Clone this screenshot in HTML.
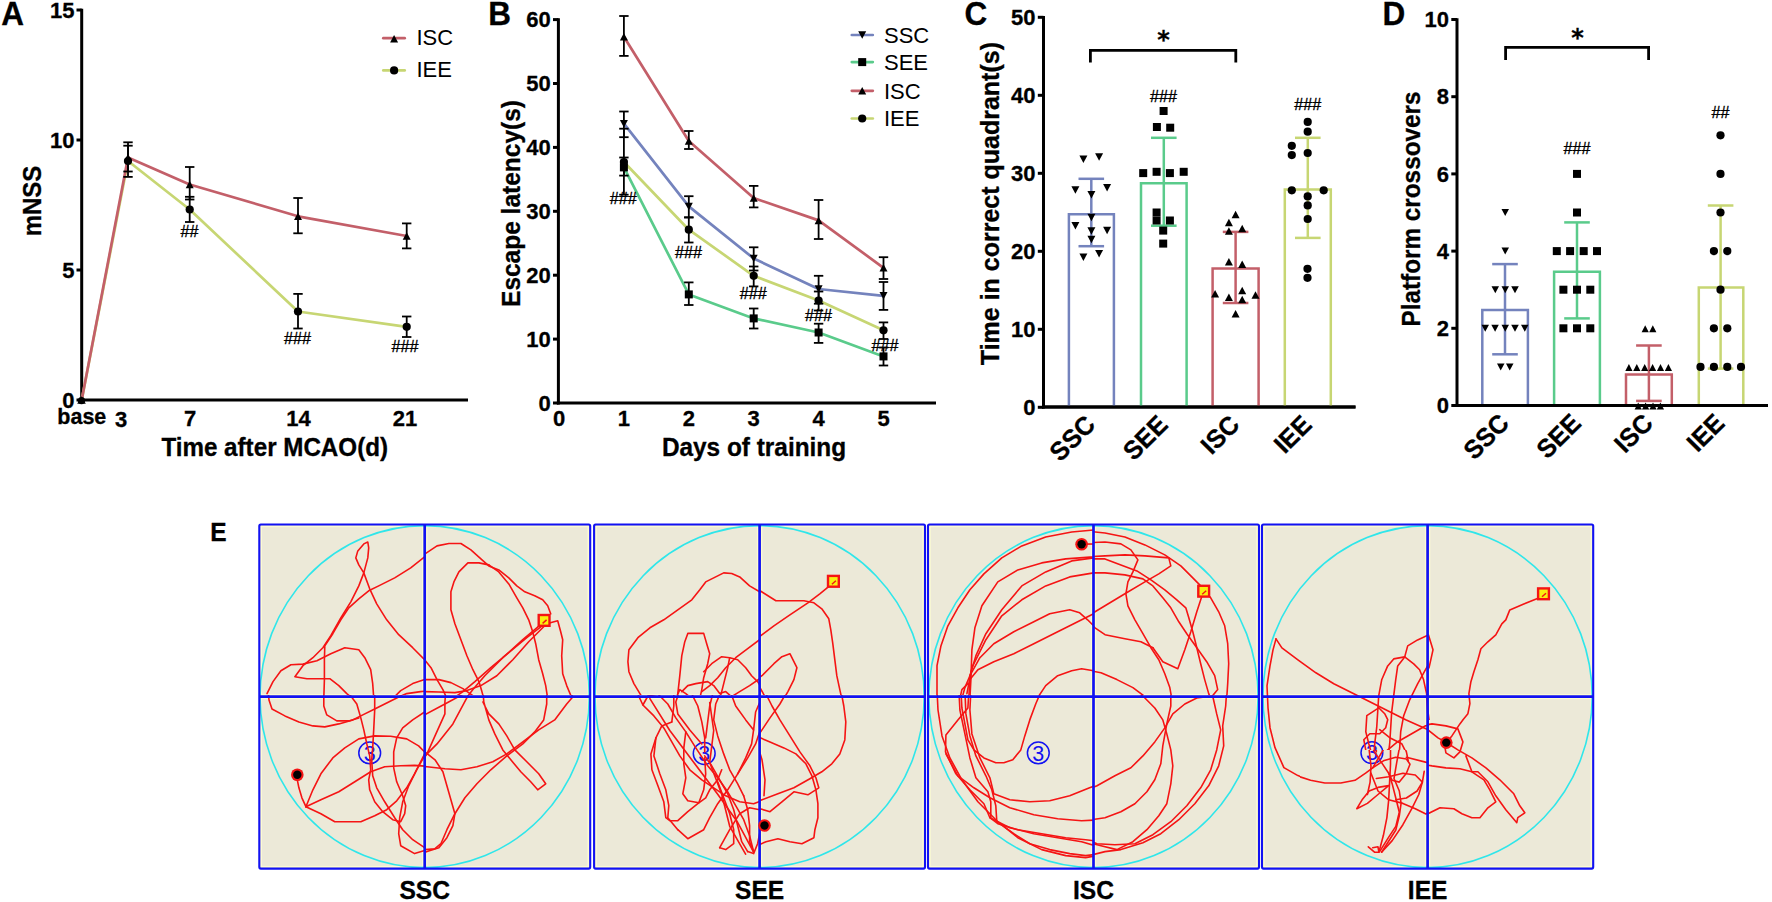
<!DOCTYPE html>
<html lang="en"><head><meta charset="utf-8"><title>Figure</title>
<style>
html,body{margin:0;padding:0;background:#fff;}
body{width:1772px;height:902px;overflow:hidden;}
svg{display:block;}
svg text{font-family:"Liberation Sans",Arial,sans-serif;fill:#000;}
svg text.star{font-family:"DejaVu Sans","Liberation Sans",sans-serif;font-weight:bold;}
</style></head><body>
<svg width="1772" height="902" viewBox="0 0 1772 902">
<rect width="1772" height="902" fill="#fff"/>
<text transform="translate(1.3 24.8) scale(1 1.04)" font-size="31.5" font-weight="bold" text-anchor="start"  stroke="#000" stroke-width="0.3">A</text>
<text transform="translate(488.2 24.8) scale(1 1.04)" font-size="31.5" font-weight="bold" text-anchor="start"  stroke="#000" stroke-width="0.3">B</text>
<text transform="translate(964.5 24.8) scale(1 1.04)" font-size="31.5" font-weight="bold" text-anchor="start"  stroke="#000" stroke-width="0.3">C</text>
<text transform="translate(1382.4 24.8) scale(1 1.04)" font-size="31.5" font-weight="bold" text-anchor="start"  stroke="#000" stroke-width="0.3">D</text>
<text transform="translate(210.2 541.0) scale(1 1.04)" font-size="24.5" font-weight="bold" text-anchor="start"  stroke="#000" stroke-width="0.3">E</text>
<line x1="81.7" y1="8.7" x2="81.7" y2="401.5" stroke="#000" stroke-width="3" stroke-linecap="butt"/>
<line x1="80.2" y1="400.0" x2="468.0" y2="400.0" stroke="#000" stroke-width="3" stroke-linecap="butt"/>
<line x1="76.5" y1="400.0" x2="81.7" y2="400.0" stroke="#000" stroke-width="3" stroke-linecap="butt"/>
<text transform="translate(74.5 407.6) scale(1 1.04)" font-size="22" font-weight="bold" text-anchor="end"  stroke="#000" stroke-width="0.3">0</text>
<line x1="76.5" y1="270.0" x2="81.7" y2="270.0" stroke="#000" stroke-width="3" stroke-linecap="butt"/>
<text transform="translate(74.5 277.6) scale(1 1.04)" font-size="22" font-weight="bold" text-anchor="end"  stroke="#000" stroke-width="0.3">5</text>
<line x1="76.5" y1="140.0" x2="81.7" y2="140.0" stroke="#000" stroke-width="3" stroke-linecap="butt"/>
<text transform="translate(74.5 147.6) scale(1 1.04)" font-size="22" font-weight="bold" text-anchor="end"  stroke="#000" stroke-width="0.3">10</text>
<line x1="76.5" y1="10.0" x2="81.7" y2="10.0" stroke="#000" stroke-width="3" stroke-linecap="butt"/>
<text transform="translate(74.5 17.6) scale(1 1.04)" font-size="22" font-weight="bold" text-anchor="end"  stroke="#000" stroke-width="0.3">15</text>
<text transform="translate(81.8 424.3) scale(1 1.04)" font-size="21.5" font-weight="bold" text-anchor="middle"  stroke="#000" stroke-width="0.3">base</text>
<text transform="translate(121.0 427.3) scale(1 1.04)" font-size="22" font-weight="bold" text-anchor="middle"  stroke="#000" stroke-width="0.3">3</text>
<text transform="translate(190.0 425.5) scale(1 1.04)" font-size="22" font-weight="bold" text-anchor="middle"  stroke="#000" stroke-width="0.3">7</text>
<text transform="translate(298.5 425.5) scale(1 1.04)" font-size="22" font-weight="bold" text-anchor="middle"  stroke="#000" stroke-width="0.3">14</text>
<text transform="translate(405.0 425.5) scale(1 1.04)" font-size="22" font-weight="bold" text-anchor="middle"  stroke="#000" stroke-width="0.3">21</text>
<text transform="translate(274.7 455.5) scale(1 1.04)" font-size="24.2" font-weight="bold" text-anchor="middle"  stroke="#000" stroke-width="0.3">Time after MCAO(d)</text>
<text transform="translate(41.0 201.0) rotate(-90) scale(1 1.04)" font-size="24" font-weight="bold" text-anchor="middle"  stroke="#000" stroke-width="0.3">mNSS</text>
<polyline points="81.7,400.0 128.0,161.0 189.7,209.5 298.0,311.5 406.7,326.8" fill="none" stroke="#c7d673" stroke-width="2.7" stroke-linejoin="round" stroke-linecap="round"/>
<polyline points="81.7,400.0 128.0,157.5 189.7,184.5 298.0,216.3 406.7,236.0" fill="none" stroke="#c35f69" stroke-width="2.7" stroke-linejoin="round" stroke-linecap="round"/>
<line x1="128.0" y1="142.3" x2="128.0" y2="171.5" stroke="#000" stroke-width="1.8" stroke-linecap="butt"/>
<line x1="123.3" y1="142.3" x2="132.7" y2="142.3" stroke="#000" stroke-width="1.8" stroke-linecap="butt"/>
<line x1="123.3" y1="171.5" x2="132.7" y2="171.5" stroke="#000" stroke-width="1.8" stroke-linecap="butt"/>
<line x1="128.0" y1="145.7" x2="128.0" y2="176.9" stroke="#000" stroke-width="1.8" stroke-linecap="butt"/>
<line x1="123.3" y1="145.7" x2="132.7" y2="145.7" stroke="#000" stroke-width="1.8" stroke-linecap="butt"/>
<line x1="123.3" y1="176.9" x2="132.7" y2="176.9" stroke="#000" stroke-width="1.8" stroke-linecap="butt"/>
<line x1="189.7" y1="167.0" x2="189.7" y2="199.5" stroke="#000" stroke-width="1.8" stroke-linecap="butt"/>
<line x1="185.0" y1="167.0" x2="194.4" y2="167.0" stroke="#000" stroke-width="1.8" stroke-linecap="butt"/>
<line x1="185.0" y1="199.5" x2="194.4" y2="199.5" stroke="#000" stroke-width="1.8" stroke-linecap="butt"/>
<line x1="189.7" y1="196.8" x2="189.7" y2="222.0" stroke="#000" stroke-width="1.8" stroke-linecap="butt"/>
<line x1="185.0" y1="196.8" x2="194.4" y2="196.8" stroke="#000" stroke-width="1.8" stroke-linecap="butt"/>
<line x1="185.0" y1="222.0" x2="194.4" y2="222.0" stroke="#000" stroke-width="1.8" stroke-linecap="butt"/>
<line x1="298.0" y1="198.0" x2="298.0" y2="233.3" stroke="#000" stroke-width="1.8" stroke-linecap="butt"/>
<line x1="293.3" y1="198.0" x2="302.7" y2="198.0" stroke="#000" stroke-width="1.8" stroke-linecap="butt"/>
<line x1="293.3" y1="233.3" x2="302.7" y2="233.3" stroke="#000" stroke-width="1.8" stroke-linecap="butt"/>
<line x1="298.0" y1="293.9" x2="298.0" y2="328.5" stroke="#000" stroke-width="1.8" stroke-linecap="butt"/>
<line x1="293.3" y1="293.9" x2="302.7" y2="293.9" stroke="#000" stroke-width="1.8" stroke-linecap="butt"/>
<line x1="293.3" y1="328.5" x2="302.7" y2="328.5" stroke="#000" stroke-width="1.8" stroke-linecap="butt"/>
<line x1="406.7" y1="223.4" x2="406.7" y2="248.4" stroke="#000" stroke-width="1.8" stroke-linecap="butt"/>
<line x1="402.0" y1="223.4" x2="411.4" y2="223.4" stroke="#000" stroke-width="1.8" stroke-linecap="butt"/>
<line x1="402.0" y1="248.4" x2="411.4" y2="248.4" stroke="#000" stroke-width="1.8" stroke-linecap="butt"/>
<line x1="406.7" y1="316.5" x2="406.7" y2="337.0" stroke="#000" stroke-width="1.8" stroke-linecap="butt"/>
<line x1="402.0" y1="316.5" x2="411.4" y2="316.5" stroke="#000" stroke-width="1.8" stroke-linecap="butt"/>
<line x1="402.0" y1="337.0" x2="411.4" y2="337.0" stroke="#000" stroke-width="1.8" stroke-linecap="butt"/>
<circle cx="81.5" cy="400.6" r="3.6" fill="#000"/>
<polygon points="77.2,403.8 85.8,403.8 81.5,396.2" fill="#000"/>
<circle cx="128.0" cy="161.0" r="4.1" fill="#000"/>
<circle cx="189.7" cy="209.5" r="4.1" fill="#000"/>
<circle cx="298.0" cy="311.5" r="4.1" fill="#000"/>
<circle cx="406.7" cy="326.8" r="4.1" fill="#000"/>
<polygon points="124.0,161.2 132.0,161.2 128.0,153.8" fill="#000"/>
<polygon points="185.7,188.2 193.7,188.2 189.7,180.8" fill="#000"/>
<polygon points="294.0,220.1 302.0,220.1 298.0,212.6" fill="#000"/>
<polygon points="402.7,239.8 410.7,239.8 406.7,232.2" fill="#000"/>
<text transform="translate(189.5 237.2) scale(1 1.04)" font-size="16.2" font-weight="normal" text-anchor="middle" stroke="#000" stroke-width="0.35">##</text>
<text transform="translate(297.6 344.0) scale(1 1.04)" font-size="16.2" font-weight="normal" text-anchor="middle" stroke="#000" stroke-width="0.35">###</text>
<text transform="translate(405.0 351.5) scale(1 1.04)" font-size="16.2" font-weight="normal" text-anchor="middle" stroke="#000" stroke-width="0.35">###</text>
<line x1="383.3" y1="38.2" x2="404.7" y2="38.2" stroke="#c35f69" stroke-width="2.7" stroke-linecap="round"/>
<polygon points="390.1,42.4 398.1,42.4 394.1,34.9" fill="#000"/>
<line x1="383.3" y1="70.4" x2="404.7" y2="70.4" stroke="#c7d673" stroke-width="2.7" stroke-linecap="round"/>
<circle cx="394.1" cy="70.4" r="4.1" fill="#000"/>
<text transform="translate(416.4 45.2) scale(1 1.04)" font-size="22" font-weight="normal" text-anchor="start" >ISC</text>
<text transform="translate(416.4 77.3) scale(1 1.04)" font-size="22" font-weight="normal" text-anchor="start" >IEE</text>
<line x1="558.4" y1="18.2" x2="558.4" y2="404.5" stroke="#000" stroke-width="3" stroke-linecap="butt"/>
<line x1="556.9" y1="403.0" x2="936.0" y2="403.0" stroke="#000" stroke-width="3" stroke-linecap="butt"/>
<line x1="553.0" y1="403.0" x2="558.4" y2="403.0" stroke="#000" stroke-width="3" stroke-linecap="butt"/>
<text transform="translate(550.8 410.6) scale(1 1.04)" font-size="22" font-weight="bold" text-anchor="end"  stroke="#000" stroke-width="0.3">0</text>
<line x1="553.0" y1="339.1" x2="558.4" y2="339.1" stroke="#000" stroke-width="3" stroke-linecap="butt"/>
<text transform="translate(550.8 346.7) scale(1 1.04)" font-size="22" font-weight="bold" text-anchor="end"  stroke="#000" stroke-width="0.3">10</text>
<line x1="553.0" y1="275.2" x2="558.4" y2="275.2" stroke="#000" stroke-width="3" stroke-linecap="butt"/>
<text transform="translate(550.8 282.8) scale(1 1.04)" font-size="22" font-weight="bold" text-anchor="end"  stroke="#000" stroke-width="0.3">20</text>
<line x1="553.0" y1="211.3" x2="558.4" y2="211.3" stroke="#000" stroke-width="3" stroke-linecap="butt"/>
<text transform="translate(550.8 218.9) scale(1 1.04)" font-size="22" font-weight="bold" text-anchor="end"  stroke="#000" stroke-width="0.3">30</text>
<line x1="553.0" y1="147.4" x2="558.4" y2="147.4" stroke="#000" stroke-width="3" stroke-linecap="butt"/>
<text transform="translate(550.8 155.0) scale(1 1.04)" font-size="22" font-weight="bold" text-anchor="end"  stroke="#000" stroke-width="0.3">40</text>
<line x1="553.0" y1="83.5" x2="558.4" y2="83.5" stroke="#000" stroke-width="3" stroke-linecap="butt"/>
<text transform="translate(550.8 91.1) scale(1 1.04)" font-size="22" font-weight="bold" text-anchor="end"  stroke="#000" stroke-width="0.3">50</text>
<line x1="553.0" y1="19.6" x2="558.4" y2="19.6" stroke="#000" stroke-width="3" stroke-linecap="butt"/>
<text transform="translate(550.8 27.2) scale(1 1.04)" font-size="22" font-weight="bold" text-anchor="end"  stroke="#000" stroke-width="0.3">60</text>
<text transform="translate(559.0 425.8) scale(1 1.04)" font-size="22" font-weight="bold" text-anchor="middle"  stroke="#000" stroke-width="0.3">0</text>
<text transform="translate(623.9 425.8) scale(1 1.04)" font-size="22" font-weight="bold" text-anchor="middle"  stroke="#000" stroke-width="0.3">1</text>
<text transform="translate(688.8 425.8) scale(1 1.04)" font-size="22" font-weight="bold" text-anchor="middle"  stroke="#000" stroke-width="0.3">2</text>
<text transform="translate(753.7 425.8) scale(1 1.04)" font-size="22" font-weight="bold" text-anchor="middle"  stroke="#000" stroke-width="0.3">3</text>
<text transform="translate(818.6 425.8) scale(1 1.04)" font-size="22" font-weight="bold" text-anchor="middle"  stroke="#000" stroke-width="0.3">4</text>
<text transform="translate(883.5 425.8) scale(1 1.04)" font-size="22" font-weight="bold" text-anchor="middle"  stroke="#000" stroke-width="0.3">5</text>
<text transform="translate(754.0 455.8) scale(1 1.04)" font-size="24.4" font-weight="bold" text-anchor="middle"  stroke="#000" stroke-width="0.3">Days of training</text>
<text transform="translate(519.8 203.5) rotate(-90) scale(1 1.04)" font-size="24.5" font-weight="bold" text-anchor="middle"  stroke="#000" stroke-width="0.3">Escape latency(s)</text>
<polyline points="623.9,162.0 688.8,229.7 753.7,275.8 818.6,300.5 883.5,330.3" fill="none" stroke="#c7d673" stroke-width="2.7" stroke-linejoin="round" stroke-linecap="round"/>
<polyline points="623.9,167.4 688.8,294.4 753.7,318.4 818.6,332.5 883.5,356.4" fill="none" stroke="#5acb8b" stroke-width="2.7" stroke-linejoin="round" stroke-linecap="round"/>
<polyline points="623.9,123.7 688.8,206.4 753.7,258.5 818.6,289.0 883.5,295.8" fill="none" stroke="#7483bd" stroke-width="2.7" stroke-linejoin="round" stroke-linecap="round"/>
<polyline points="623.9,36.7 688.8,141.0 753.7,198.0 818.6,220.4 883.5,267.8" fill="none" stroke="#c35f69" stroke-width="2.7" stroke-linejoin="round" stroke-linecap="round"/>
<line x1="623.9" y1="111.5" x2="623.9" y2="137.2" stroke="#000" stroke-width="1.8" stroke-linecap="butt"/>
<line x1="619.2" y1="111.5" x2="628.6" y2="111.5" stroke="#000" stroke-width="1.8" stroke-linecap="butt"/>
<line x1="619.2" y1="137.2" x2="628.6" y2="137.2" stroke="#000" stroke-width="1.8" stroke-linecap="butt"/>
<line x1="623.9" y1="157.5" x2="623.9" y2="175.6" stroke="#000" stroke-width="1.8" stroke-linecap="butt"/>
<line x1="619.2" y1="157.5" x2="628.6" y2="157.5" stroke="#000" stroke-width="1.8" stroke-linecap="butt"/>
<line x1="619.2" y1="175.6" x2="628.6" y2="175.6" stroke="#000" stroke-width="1.8" stroke-linecap="butt"/>
<line x1="623.9" y1="16.0" x2="623.9" y2="55.9" stroke="#000" stroke-width="1.8" stroke-linecap="butt"/>
<line x1="619.2" y1="16.0" x2="628.6" y2="16.0" stroke="#000" stroke-width="1.8" stroke-linecap="butt"/>
<line x1="619.2" y1="55.9" x2="628.6" y2="55.9" stroke="#000" stroke-width="1.8" stroke-linecap="butt"/>
<line x1="623.9" y1="128.7" x2="623.9" y2="194.7" stroke="#000" stroke-width="1.8" stroke-linecap="butt"/>
<line x1="619.2" y1="128.7" x2="628.6" y2="128.7" stroke="#000" stroke-width="1.8" stroke-linecap="butt"/>
<line x1="619.2" y1="194.7" x2="628.6" y2="194.7" stroke="#000" stroke-width="1.8" stroke-linecap="butt"/>
<line x1="688.8" y1="196.2" x2="688.8" y2="217.3" stroke="#000" stroke-width="1.8" stroke-linecap="butt"/>
<line x1="684.1" y1="196.2" x2="693.5" y2="196.2" stroke="#000" stroke-width="1.8" stroke-linecap="butt"/>
<line x1="684.1" y1="217.3" x2="693.5" y2="217.3" stroke="#000" stroke-width="1.8" stroke-linecap="butt"/>
<line x1="688.8" y1="282.4" x2="688.8" y2="305.0" stroke="#000" stroke-width="1.8" stroke-linecap="butt"/>
<line x1="684.1" y1="282.4" x2="693.5" y2="282.4" stroke="#000" stroke-width="1.8" stroke-linecap="butt"/>
<line x1="684.1" y1="305.0" x2="693.5" y2="305.0" stroke="#000" stroke-width="1.8" stroke-linecap="butt"/>
<line x1="688.8" y1="131.0" x2="688.8" y2="149.0" stroke="#000" stroke-width="1.8" stroke-linecap="butt"/>
<line x1="684.1" y1="131.0" x2="693.5" y2="131.0" stroke="#000" stroke-width="1.8" stroke-linecap="butt"/>
<line x1="684.1" y1="149.0" x2="693.5" y2="149.0" stroke="#000" stroke-width="1.8" stroke-linecap="butt"/>
<line x1="688.8" y1="217.5" x2="688.8" y2="242.5" stroke="#000" stroke-width="1.8" stroke-linecap="butt"/>
<line x1="684.1" y1="217.5" x2="693.5" y2="217.5" stroke="#000" stroke-width="1.8" stroke-linecap="butt"/>
<line x1="684.1" y1="242.5" x2="693.5" y2="242.5" stroke="#000" stroke-width="1.8" stroke-linecap="butt"/>
<line x1="753.7" y1="247.3" x2="753.7" y2="270.5" stroke="#000" stroke-width="1.8" stroke-linecap="butt"/>
<line x1="749.0" y1="247.3" x2="758.4" y2="247.3" stroke="#000" stroke-width="1.8" stroke-linecap="butt"/>
<line x1="749.0" y1="270.5" x2="758.4" y2="270.5" stroke="#000" stroke-width="1.8" stroke-linecap="butt"/>
<line x1="753.7" y1="308.5" x2="753.7" y2="328.5" stroke="#000" stroke-width="1.8" stroke-linecap="butt"/>
<line x1="749.0" y1="308.5" x2="758.4" y2="308.5" stroke="#000" stroke-width="1.8" stroke-linecap="butt"/>
<line x1="749.0" y1="328.5" x2="758.4" y2="328.5" stroke="#000" stroke-width="1.8" stroke-linecap="butt"/>
<line x1="753.7" y1="185.9" x2="753.7" y2="207.4" stroke="#000" stroke-width="1.8" stroke-linecap="butt"/>
<line x1="749.0" y1="185.9" x2="758.4" y2="185.9" stroke="#000" stroke-width="1.8" stroke-linecap="butt"/>
<line x1="749.0" y1="207.4" x2="758.4" y2="207.4" stroke="#000" stroke-width="1.8" stroke-linecap="butt"/>
<line x1="753.7" y1="266.5" x2="753.7" y2="286.4" stroke="#000" stroke-width="1.8" stroke-linecap="butt"/>
<line x1="749.0" y1="266.5" x2="758.4" y2="266.5" stroke="#000" stroke-width="1.8" stroke-linecap="butt"/>
<line x1="749.0" y1="286.4" x2="758.4" y2="286.4" stroke="#000" stroke-width="1.8" stroke-linecap="butt"/>
<line x1="818.6" y1="275.8" x2="818.6" y2="303.7" stroke="#000" stroke-width="1.8" stroke-linecap="butt"/>
<line x1="813.9" y1="275.8" x2="823.3" y2="275.8" stroke="#000" stroke-width="1.8" stroke-linecap="butt"/>
<line x1="813.9" y1="303.7" x2="823.3" y2="303.7" stroke="#000" stroke-width="1.8" stroke-linecap="butt"/>
<line x1="818.6" y1="323.7" x2="818.6" y2="342.9" stroke="#000" stroke-width="1.8" stroke-linecap="butt"/>
<line x1="813.9" y1="323.7" x2="823.3" y2="323.7" stroke="#000" stroke-width="1.8" stroke-linecap="butt"/>
<line x1="813.9" y1="342.9" x2="823.3" y2="342.9" stroke="#000" stroke-width="1.8" stroke-linecap="butt"/>
<line x1="818.6" y1="200.0" x2="818.6" y2="239.0" stroke="#000" stroke-width="1.8" stroke-linecap="butt"/>
<line x1="813.9" y1="200.0" x2="823.3" y2="200.0" stroke="#000" stroke-width="1.8" stroke-linecap="butt"/>
<line x1="813.9" y1="239.0" x2="823.3" y2="239.0" stroke="#000" stroke-width="1.8" stroke-linecap="butt"/>
<line x1="818.6" y1="291.5" x2="818.6" y2="310.5" stroke="#000" stroke-width="1.8" stroke-linecap="butt"/>
<line x1="813.9" y1="291.5" x2="823.3" y2="291.5" stroke="#000" stroke-width="1.8" stroke-linecap="butt"/>
<line x1="813.9" y1="310.5" x2="823.3" y2="310.5" stroke="#000" stroke-width="1.8" stroke-linecap="butt"/>
<line x1="883.5" y1="282.0" x2="883.5" y2="309.9" stroke="#000" stroke-width="1.8" stroke-linecap="butt"/>
<line x1="878.8" y1="282.0" x2="888.2" y2="282.0" stroke="#000" stroke-width="1.8" stroke-linecap="butt"/>
<line x1="878.8" y1="309.9" x2="888.2" y2="309.9" stroke="#000" stroke-width="1.8" stroke-linecap="butt"/>
<line x1="883.5" y1="347.5" x2="883.5" y2="365.5" stroke="#000" stroke-width="1.8" stroke-linecap="butt"/>
<line x1="878.8" y1="347.5" x2="888.2" y2="347.5" stroke="#000" stroke-width="1.8" stroke-linecap="butt"/>
<line x1="878.8" y1="365.5" x2="888.2" y2="365.5" stroke="#000" stroke-width="1.8" stroke-linecap="butt"/>
<line x1="883.5" y1="257.2" x2="883.5" y2="279.0" stroke="#000" stroke-width="1.8" stroke-linecap="butt"/>
<line x1="878.8" y1="257.2" x2="888.2" y2="257.2" stroke="#000" stroke-width="1.8" stroke-linecap="butt"/>
<line x1="878.8" y1="279.0" x2="888.2" y2="279.0" stroke="#000" stroke-width="1.8" stroke-linecap="butt"/>
<line x1="883.5" y1="322.4" x2="883.5" y2="339.0" stroke="#000" stroke-width="1.8" stroke-linecap="butt"/>
<line x1="878.8" y1="322.4" x2="888.2" y2="322.4" stroke="#000" stroke-width="1.8" stroke-linecap="butt"/>
<line x1="878.8" y1="339.0" x2="888.2" y2="339.0" stroke="#000" stroke-width="1.8" stroke-linecap="butt"/>
<polygon points="619.9,120.0 627.9,120.0 623.9,127.5" fill="#000"/>
<polygon points="684.8,202.7 692.8,202.7 688.8,210.2" fill="#000"/>
<polygon points="749.7,254.8 757.7,254.8 753.7,262.2" fill="#000"/>
<polygon points="814.6,285.2 822.6,285.2 818.6,292.8" fill="#000"/>
<polygon points="879.5,292.1 887.5,292.1 883.5,299.6" fill="#000"/>
<rect x="619.9" y="163.4" width="8" height="8" fill="#000"/>
<rect x="684.8" y="290.4" width="8" height="8" fill="#000"/>
<rect x="749.7" y="314.4" width="8" height="8" fill="#000"/>
<rect x="814.6" y="328.5" width="8" height="8" fill="#000"/>
<rect x="879.5" y="352.4" width="8" height="8" fill="#000"/>
<polygon points="619.9,40.5 627.9,40.5 623.9,33.0" fill="#000"/>
<polygon points="684.8,144.8 692.8,144.8 688.8,137.2" fill="#000"/>
<polygon points="749.7,201.8 757.7,201.8 753.7,194.2" fill="#000"/>
<polygon points="814.6,224.2 822.6,224.2 818.6,216.7" fill="#000"/>
<polygon points="879.5,271.6 887.5,271.6 883.5,264.1" fill="#000"/>
<circle cx="623.9" cy="162.0" r="4.1" fill="#000"/>
<circle cx="688.8" cy="229.7" r="4.1" fill="#000"/>
<circle cx="753.7" cy="275.8" r="4.1" fill="#000"/>
<circle cx="818.6" cy="300.5" r="4.1" fill="#000"/>
<circle cx="883.5" cy="330.3" r="4.1" fill="#000"/>
<text transform="translate(623.3 204.0) scale(1 1.04)" font-size="16.2" font-weight="normal" text-anchor="middle" stroke="#000" stroke-width="0.35">###</text>
<text transform="translate(688.4 258.2) scale(1 1.04)" font-size="16.2" font-weight="normal" text-anchor="middle" stroke="#000" stroke-width="0.35">###</text>
<text transform="translate(753.2 299.4) scale(1 1.04)" font-size="16.2" font-weight="normal" text-anchor="middle" stroke="#000" stroke-width="0.35">###</text>
<text transform="translate(818.4 321.4) scale(1 1.04)" font-size="16.2" font-weight="normal" text-anchor="middle" stroke="#000" stroke-width="0.35">###</text>
<text transform="translate(885.0 350.7) scale(1 1.04)" font-size="16.2" font-weight="normal" text-anchor="middle" stroke="#000" stroke-width="0.35">###</text>
<line x1="851.8" y1="35.0" x2="872.8" y2="35.0" stroke="#7483bd" stroke-width="2.7" stroke-linecap="round"/>
<polygon points="858.2,31.2 866.2,31.2 862.2,38.8" fill="#000"/>
<text transform="translate(884.0 42.8) scale(1 1.04)" font-size="22" font-weight="normal" text-anchor="start" >SSC</text>
<line x1="851.8" y1="62.1" x2="872.8" y2="62.1" stroke="#5acb8b" stroke-width="2.7" stroke-linecap="round"/>
<rect x="858.2" y="58.1" width="8" height="8" fill="#000"/>
<text transform="translate(884.0 69.9) scale(1 1.04)" font-size="22" font-weight="normal" text-anchor="start" >SEE</text>
<line x1="851.8" y1="90.8" x2="872.8" y2="90.8" stroke="#c35f69" stroke-width="2.7" stroke-linecap="round"/>
<polygon points="858.2,94.5 866.2,94.5 862.2,87.0" fill="#000"/>
<text transform="translate(884.0 98.6) scale(1 1.04)" font-size="22" font-weight="normal" text-anchor="start" >ISC</text>
<line x1="851.8" y1="118.5" x2="872.8" y2="118.5" stroke="#c7d673" stroke-width="2.7" stroke-linecap="round"/>
<circle cx="862.2" cy="118.5" r="4.1" fill="#000"/>
<text transform="translate(884.0 126.3) scale(1 1.04)" font-size="22" font-weight="normal" text-anchor="start" >IEE</text>
<line x1="1043.5" y1="16.0" x2="1043.5" y2="408.5" stroke="#000" stroke-width="3" stroke-linecap="butt"/>
<line x1="1042.0" y1="407.0" x2="1355.5" y2="407.0" stroke="#000" stroke-width="3" stroke-linecap="butt"/>
<line x1="1037.8" y1="407.3" x2="1043.5" y2="407.3" stroke="#000" stroke-width="3" stroke-linecap="butt"/>
<text transform="translate(1035.5 414.9) scale(1 1.04)" font-size="22" font-weight="bold" text-anchor="end"  stroke="#000" stroke-width="0.3">0</text>
<line x1="1037.8" y1="329.3" x2="1043.5" y2="329.3" stroke="#000" stroke-width="3" stroke-linecap="butt"/>
<text transform="translate(1035.5 336.9) scale(1 1.04)" font-size="22" font-weight="bold" text-anchor="end"  stroke="#000" stroke-width="0.3">10</text>
<line x1="1037.8" y1="251.3" x2="1043.5" y2="251.3" stroke="#000" stroke-width="3" stroke-linecap="butt"/>
<text transform="translate(1035.5 258.9) scale(1 1.04)" font-size="22" font-weight="bold" text-anchor="end"  stroke="#000" stroke-width="0.3">20</text>
<line x1="1037.8" y1="173.3" x2="1043.5" y2="173.3" stroke="#000" stroke-width="3" stroke-linecap="butt"/>
<text transform="translate(1035.5 180.9) scale(1 1.04)" font-size="22" font-weight="bold" text-anchor="end"  stroke="#000" stroke-width="0.3">30</text>
<line x1="1037.8" y1="95.3" x2="1043.5" y2="95.3" stroke="#000" stroke-width="3" stroke-linecap="butt"/>
<text transform="translate(1035.5 102.9) scale(1 1.04)" font-size="22" font-weight="bold" text-anchor="end"  stroke="#000" stroke-width="0.3">40</text>
<line x1="1037.8" y1="17.3" x2="1043.5" y2="17.3" stroke="#000" stroke-width="3" stroke-linecap="butt"/>
<text transform="translate(1035.5 24.9) scale(1 1.04)" font-size="22" font-weight="bold" text-anchor="end"  stroke="#000" stroke-width="0.3">50</text>
<text transform="translate(998.5 203.6) rotate(-90) scale(1 1.04)" font-size="25" font-weight="bold" text-anchor="middle"  stroke="#000" stroke-width="0.3">Time in correct quadrant(s)</text>
<path d="M1068.9,407 V214.2 H1113.9 V407" fill="none" stroke="#7483bd" stroke-width="2.5"/>
<line x1="1091.3" y1="178.8" x2="1091.3" y2="246.2" stroke="#7483bd" stroke-width="2.5" stroke-linecap="butt"/>
<line x1="1078.5" y1="178.8" x2="1104.1" y2="178.8" stroke="#7483bd" stroke-width="2.5" stroke-linecap="butt"/>
<line x1="1078.5" y1="246.2" x2="1104.1" y2="246.2" stroke="#7483bd" stroke-width="2.5" stroke-linecap="butt"/>
<path d="M1141.0,407 V183.2 H1186.6 V407" fill="none" stroke="#5acb8b" stroke-width="2.5"/>
<line x1="1163.8" y1="137.8" x2="1163.8" y2="225.7" stroke="#5acb8b" stroke-width="2.5" stroke-linecap="butt"/>
<line x1="1151.0" y1="137.8" x2="1176.6" y2="137.8" stroke="#5acb8b" stroke-width="2.5" stroke-linecap="butt"/>
<line x1="1151.0" y1="225.7" x2="1176.6" y2="225.7" stroke="#5acb8b" stroke-width="2.5" stroke-linecap="butt"/>
<path d="M1212.6,407 V268.4 H1258.6 V407" fill="none" stroke="#c35f69" stroke-width="2.5"/>
<line x1="1235.6" y1="231.9" x2="1235.6" y2="303.0" stroke="#c35f69" stroke-width="2.5" stroke-linecap="butt"/>
<line x1="1222.8" y1="231.9" x2="1248.4" y2="231.9" stroke="#c35f69" stroke-width="2.5" stroke-linecap="butt"/>
<line x1="1222.8" y1="303.0" x2="1248.4" y2="303.0" stroke="#c35f69" stroke-width="2.5" stroke-linecap="butt"/>
<path d="M1284.8,407 V189.5 H1330.8 V407" fill="none" stroke="#c7d673" stroke-width="2.5"/>
<line x1="1307.8" y1="137.8" x2="1307.8" y2="237.9" stroke="#c7d673" stroke-width="2.5" stroke-linecap="butt"/>
<line x1="1295.0" y1="137.8" x2="1320.6" y2="137.8" stroke="#c7d673" stroke-width="2.5" stroke-linecap="butt"/>
<line x1="1295.0" y1="237.9" x2="1320.6" y2="237.9" stroke="#c7d673" stroke-width="2.5" stroke-linecap="butt"/>
<line x1="1042.0" y1="407.0" x2="1355.5" y2="407.0" stroke="#000" stroke-width="3" stroke-linecap="butt"/>
<polygon points="1079.4,155.6 1087.4,155.6 1083.4,163.1" fill="#000"/>
<polygon points="1095.1,153.3 1103.1,153.3 1099.1,160.8" fill="#000"/>
<polygon points="1071.4,186.2 1079.4,186.2 1075.4,193.7" fill="#000"/>
<polygon points="1103.1,183.9 1111.1,183.9 1107.1,191.4" fill="#000"/>
<polygon points="1087.4,190.9 1095.4,190.9 1091.4,198.4" fill="#000"/>
<polygon points="1087.4,213.8 1095.4,213.8 1091.4,221.2" fill="#000"/>
<polygon points="1071.4,222.1 1079.4,222.1 1075.4,229.6" fill="#000"/>
<polygon points="1103.1,226.8 1111.1,226.8 1107.1,234.3" fill="#000"/>
<polygon points="1087.4,227.3 1095.4,227.3 1091.4,234.8" fill="#000"/>
<polygon points="1087.4,235.8 1095.4,235.8 1091.4,243.3" fill="#000"/>
<polygon points="1079.4,253.4 1087.4,253.4 1083.4,260.9" fill="#000"/>
<polygon points="1095.1,249.9 1103.1,249.9 1099.1,257.4" fill="#000"/>
<rect x="1159.6" y="107.0" width="8" height="8" fill="#000"/>
<rect x="1152.9" y="123.0" width="8" height="8" fill="#000"/>
<rect x="1166.2" y="123.7" width="8" height="8" fill="#000"/>
<rect x="1139.2" y="169.1" width="8" height="8" fill="#000"/>
<rect x="1152.6" y="167.8" width="8" height="8" fill="#000"/>
<rect x="1165.9" y="169.1" width="8" height="8" fill="#000"/>
<rect x="1179.7" y="167.8" width="8" height="8" fill="#000"/>
<rect x="1152.6" y="208.5" width="8" height="8" fill="#000"/>
<rect x="1152.6" y="216.5" width="8" height="8" fill="#000"/>
<rect x="1165.9" y="216.5" width="8" height="8" fill="#000"/>
<rect x="1159.2" y="226.6" width="8" height="8" fill="#000"/>
<rect x="1159.2" y="239.6" width="8" height="8" fill="#000"/>
<polygon points="1231.6,218.3 1239.6,218.3 1235.6,210.8" fill="#000"/>
<polygon points="1224.9,226.3 1232.9,226.3 1228.9,218.8" fill="#000"/>
<polygon points="1238.2,232.2 1246.2,232.2 1242.2,224.8" fill="#000"/>
<polygon points="1224.9,234.8 1232.9,234.8 1228.9,227.3" fill="#000"/>
<polygon points="1224.9,265.4 1232.9,265.4 1228.9,257.9" fill="#000"/>
<polygon points="1238.2,268.1 1246.2,268.1 1242.2,260.6" fill="#000"/>
<polygon points="1211.1,297.4 1219.1,297.4 1215.1,289.9" fill="#000"/>
<polygon points="1224.9,300.9 1232.9,300.9 1228.9,293.4" fill="#000"/>
<polygon points="1238.2,294.2 1246.2,294.2 1242.2,286.8" fill="#000"/>
<polygon points="1251.5,298.8 1259.5,298.8 1255.5,291.2" fill="#000"/>
<polygon points="1238.2,303.2 1246.2,303.2 1242.2,295.8" fill="#000"/>
<polygon points="1231.6,317.4 1239.6,317.4 1235.6,309.9" fill="#000"/>
<circle cx="1307.7" cy="121.9" r="4.1" fill="#000"/>
<circle cx="1307.7" cy="131.7" r="4.1" fill="#000"/>
<circle cx="1291.8" cy="145.8" r="4.1" fill="#000"/>
<circle cx="1291.8" cy="155.1" r="4.1" fill="#000"/>
<circle cx="1307.7" cy="153.0" r="4.1" fill="#000"/>
<circle cx="1291.8" cy="190.3" r="4.1" fill="#000"/>
<circle cx="1323.7" cy="190.3" r="4.1" fill="#000"/>
<circle cx="1307.7" cy="196.4" r="4.1" fill="#000"/>
<circle cx="1307.7" cy="205.4" r="4.1" fill="#000"/>
<circle cx="1307.7" cy="219.0" r="4.1" fill="#000"/>
<circle cx="1307.5" cy="268.8" r="4.1" fill="#000"/>
<circle cx="1307.5" cy="277.8" r="4.1" fill="#000"/>
<text transform="translate(1163.4 101.5) scale(1 1.04)" font-size="16.2" font-weight="normal" text-anchor="middle" stroke="#000" stroke-width="0.35">###</text>
<text transform="translate(1307.7 109.5) scale(1 1.04)" font-size="16.2" font-weight="normal" text-anchor="middle" stroke="#000" stroke-width="0.35">###</text>
<path d="M1090.4,62.5 V50.3 H1235.8 V62.5" fill="none" stroke="#000" stroke-width="2.8"/>
<text transform="translate(1163.4 48.1) scale(1 1.04)" font-size="24" font-weight="bold" text-anchor="middle" class="star" stroke="#000" stroke-width="0.3">*</text>
<text transform="translate(1096.7 426.3) rotate(-45) scale(1 1.04)" font-size="25" font-weight="bold" text-anchor="end"  stroke="#000" stroke-width="0.3">SSC</text>
<text transform="translate(1169.2 426.3) rotate(-45) scale(1 1.04)" font-size="25" font-weight="bold" text-anchor="end"  stroke="#000" stroke-width="0.3">SEE</text>
<text transform="translate(1241.0 426.3) rotate(-45) scale(1 1.04)" font-size="25" font-weight="bold" text-anchor="end"  stroke="#000" stroke-width="0.3">ISC</text>
<text transform="translate(1313.2 426.3) rotate(-45) scale(1 1.04)" font-size="25" font-weight="bold" text-anchor="end"  stroke="#000" stroke-width="0.3">IEE</text>
<line x1="1457.0" y1="18.2" x2="1457.0" y2="407.0" stroke="#000" stroke-width="3" stroke-linecap="butt"/>
<line x1="1455.5" y1="405.5" x2="1768.0" y2="405.5" stroke="#000" stroke-width="3" stroke-linecap="butt"/>
<line x1="1451.3" y1="405.5" x2="1457.0" y2="405.5" stroke="#000" stroke-width="3" stroke-linecap="butt"/>
<text transform="translate(1449.0 413.1) scale(1 1.04)" font-size="22" font-weight="bold" text-anchor="end"  stroke="#000" stroke-width="0.3">0</text>
<line x1="1451.3" y1="328.3" x2="1457.0" y2="328.3" stroke="#000" stroke-width="3" stroke-linecap="butt"/>
<text transform="translate(1449.0 335.9) scale(1 1.04)" font-size="22" font-weight="bold" text-anchor="end"  stroke="#000" stroke-width="0.3">2</text>
<line x1="1451.3" y1="251.1" x2="1457.0" y2="251.1" stroke="#000" stroke-width="3" stroke-linecap="butt"/>
<text transform="translate(1449.0 258.7) scale(1 1.04)" font-size="22" font-weight="bold" text-anchor="end"  stroke="#000" stroke-width="0.3">4</text>
<line x1="1451.3" y1="173.9" x2="1457.0" y2="173.9" stroke="#000" stroke-width="3" stroke-linecap="butt"/>
<text transform="translate(1449.0 181.5) scale(1 1.04)" font-size="22" font-weight="bold" text-anchor="end"  stroke="#000" stroke-width="0.3">6</text>
<line x1="1451.3" y1="96.7" x2="1457.0" y2="96.7" stroke="#000" stroke-width="3" stroke-linecap="butt"/>
<text transform="translate(1449.0 104.3) scale(1 1.04)" font-size="22" font-weight="bold" text-anchor="end"  stroke="#000" stroke-width="0.3">8</text>
<line x1="1451.3" y1="19.5" x2="1457.0" y2="19.5" stroke="#000" stroke-width="3" stroke-linecap="butt"/>
<text transform="translate(1449.0 27.1) scale(1 1.04)" font-size="22" font-weight="bold" text-anchor="end"  stroke="#000" stroke-width="0.3">10</text>
<text transform="translate(1419.5 209.0) rotate(-90) scale(1 1.04)" font-size="24.3" font-weight="bold" text-anchor="middle"  stroke="#000" stroke-width="0.3">Platform crossovers</text>
<path d="M1482.3,405.5 V309.9 H1527.9 V405.5" fill="none" stroke="#7483bd" stroke-width="2.5"/>
<line x1="1505.0" y1="264.1" x2="1505.0" y2="354.3" stroke="#7483bd" stroke-width="2.5" stroke-linecap="butt"/>
<line x1="1492.2" y1="264.1" x2="1517.8" y2="264.1" stroke="#7483bd" stroke-width="2.5" stroke-linecap="butt"/>
<line x1="1492.2" y1="354.3" x2="1517.8" y2="354.3" stroke="#7483bd" stroke-width="2.5" stroke-linecap="butt"/>
<path d="M1554.1,405.5 V271.8 H1599.9 V405.5" fill="none" stroke="#5acb8b" stroke-width="2.5"/>
<line x1="1577.0" y1="222.4" x2="1577.0" y2="318.4" stroke="#5acb8b" stroke-width="2.5" stroke-linecap="butt"/>
<line x1="1564.2" y1="222.4" x2="1589.8" y2="222.4" stroke="#5acb8b" stroke-width="2.5" stroke-linecap="butt"/>
<line x1="1564.2" y1="318.4" x2="1589.8" y2="318.4" stroke="#5acb8b" stroke-width="2.5" stroke-linecap="butt"/>
<path d="M1626.0,405.5 V374.6 H1671.8 V405.5" fill="none" stroke="#c35f69" stroke-width="2.5"/>
<line x1="1648.9" y1="345.5" x2="1648.9" y2="400.9" stroke="#c35f69" stroke-width="2.5" stroke-linecap="butt"/>
<line x1="1636.1" y1="345.5" x2="1661.7" y2="345.5" stroke="#c35f69" stroke-width="2.5" stroke-linecap="butt"/>
<line x1="1636.1" y1="400.9" x2="1661.7" y2="400.9" stroke="#c35f69" stroke-width="2.5" stroke-linecap="butt"/>
<path d="M1698.8,405.5 V287.5 H1743.3 V405.5" fill="none" stroke="#c7d673" stroke-width="2.5"/>
<line x1="1720.6" y1="205.5" x2="1720.6" y2="368.6" stroke="#c7d673" stroke-width="2.5" stroke-linecap="butt"/>
<line x1="1707.8" y1="205.5" x2="1733.4" y2="205.5" stroke="#c7d673" stroke-width="2.5" stroke-linecap="butt"/>
<line x1="1707.8" y1="368.6" x2="1733.4" y2="368.6" stroke="#c7d673" stroke-width="2.5" stroke-linecap="butt"/>
<line x1="1455.5" y1="405.5" x2="1768.0" y2="405.5" stroke="#000" stroke-width="3" stroke-linecap="butt"/>
<polygon points="1501.5,209.0 1509.0,209.0 1505.2,216.0" fill="#000"/>
<polygon points="1501.5,247.6 1509.0,247.6 1505.2,254.6" fill="#000"/>
<polygon points="1491.5,286.2 1499.0,286.2 1495.3,293.2" fill="#000"/>
<polygon points="1501.5,286.2 1509.0,286.2 1505.2,293.2" fill="#000"/>
<polygon points="1511.2,286.2 1518.8,286.2 1515.0,293.2" fill="#000"/>
<polygon points="1481.5,324.8 1489.0,324.8 1485.2,331.8" fill="#000"/>
<polygon points="1491.3,324.8 1498.8,324.8 1495.1,331.8" fill="#000"/>
<polygon points="1501.5,324.8 1509.0,324.8 1505.2,331.8" fill="#000"/>
<polygon points="1511.2,324.8 1518.8,324.8 1515.0,331.8" fill="#000"/>
<polygon points="1521.0,324.8 1528.5,324.8 1524.8,331.8" fill="#000"/>
<polygon points="1497.0,363.4 1504.5,363.4 1500.7,370.4" fill="#000"/>
<polygon points="1506.0,363.4 1513.5,363.4 1509.7,370.4" fill="#000"/>
<rect x="1573.0" y="169.9" width="8" height="8" fill="#000"/>
<rect x="1573.0" y="208.5" width="8" height="8" fill="#000"/>
<rect x="1552.8" y="247.1" width="8" height="8" fill="#000"/>
<rect x="1566.1" y="247.1" width="8" height="8" fill="#000"/>
<rect x="1579.7" y="247.1" width="8" height="8" fill="#000"/>
<rect x="1593.0" y="247.1" width="8" height="8" fill="#000"/>
<rect x="1559.4" y="285.7" width="8" height="8" fill="#000"/>
<rect x="1573.0" y="285.7" width="8" height="8" fill="#000"/>
<rect x="1586.3" y="285.7" width="8" height="8" fill="#000"/>
<rect x="1559.4" y="324.3" width="8" height="8" fill="#000"/>
<rect x="1573.0" y="324.3" width="8" height="8" fill="#000"/>
<rect x="1586.3" y="324.3" width="8" height="8" fill="#000"/>
<polygon points="1641.6,332.3 1648.8,332.3 1645.2,325.3" fill="#000"/>
<polygon points="1649.2,332.3 1656.4,332.3 1652.8,325.3" fill="#000"/>
<polygon points="1625.3,370.9 1632.5,370.9 1628.9,363.9" fill="#000"/>
<polygon points="1633.2,370.9 1640.4,370.9 1636.8,363.9" fill="#000"/>
<polygon points="1641.1,370.9 1648.3,370.9 1644.7,363.9" fill="#000"/>
<polygon points="1649.0,370.9 1656.2,370.9 1652.6,363.9" fill="#000"/>
<polygon points="1656.9,370.9 1664.1,370.9 1660.5,363.9" fill="#000"/>
<polygon points="1664.8,370.9 1672.0,370.9 1668.4,363.9" fill="#000"/>
<polygon points="1634.6,409.5 1641.8,409.5 1638.2,402.5" fill="#000"/>
<polygon points="1642.0,409.5 1649.2,409.5 1645.6,402.5" fill="#000"/>
<polygon points="1649.4,409.5 1656.6,409.5 1653.0,402.5" fill="#000"/>
<polygon points="1656.8,409.5 1664.0,409.5 1660.4,402.5" fill="#000"/>
<circle cx="1720.5" cy="135.3" r="4.1" fill="#000"/>
<circle cx="1720.5" cy="173.9" r="4.1" fill="#000"/>
<circle cx="1720.5" cy="212.5" r="4.1" fill="#000"/>
<circle cx="1713.9" cy="251.1" r="4.1" fill="#000"/>
<circle cx="1727.3" cy="251.1" r="4.1" fill="#000"/>
<circle cx="1720.5" cy="289.7" r="4.1" fill="#000"/>
<circle cx="1713.9" cy="328.3" r="4.1" fill="#000"/>
<circle cx="1727.3" cy="328.3" r="4.1" fill="#000"/>
<circle cx="1700.5" cy="366.9" r="4.1" fill="#000"/>
<circle cx="1713.9" cy="366.9" r="4.1" fill="#000"/>
<circle cx="1727.3" cy="366.9" r="4.1" fill="#000"/>
<circle cx="1741.0" cy="366.9" r="4.1" fill="#000"/>
<text transform="translate(1577.0 153.8) scale(1 1.04)" font-size="16.2" font-weight="normal" text-anchor="middle" stroke="#000" stroke-width="0.35">###</text>
<text transform="translate(1720.6 117.8) scale(1 1.04)" font-size="16.2" font-weight="normal" text-anchor="middle" stroke="#000" stroke-width="0.35">##</text>
<path d="M1505.6,60 V47.3 H1648.6 V60" fill="none" stroke="#000" stroke-width="2.8"/>
<text transform="translate(1577.4 45.5) scale(1 1.04)" font-size="24" font-weight="bold" text-anchor="middle" class="star" stroke="#000" stroke-width="0.3">*</text>
<text transform="translate(1510.5 424.7) rotate(-45) scale(1 1.04)" font-size="25" font-weight="bold" text-anchor="end"  stroke="#000" stroke-width="0.3">SSC</text>
<text transform="translate(1582.5 424.7) rotate(-45) scale(1 1.04)" font-size="25" font-weight="bold" text-anchor="end"  stroke="#000" stroke-width="0.3">SEE</text>
<text transform="translate(1654.4 424.7) rotate(-45) scale(1 1.04)" font-size="25" font-weight="bold" text-anchor="end"  stroke="#000" stroke-width="0.3">ISC</text>
<text transform="translate(1726.1 424.7) rotate(-45) scale(1 1.04)" font-size="25" font-weight="bold" text-anchor="end"  stroke="#000" stroke-width="0.3">IEE</text>
<rect x="259.3" y="524.5" width="330.9" height="344.1" fill="#ece9d8" stroke="none"/>
<rect x="261.2" y="526.4" width="327.1" height="340.3" fill="none" stroke="#fdfbd2" stroke-width="1.6"/>
<line x1="424.7" y1="524.5" x2="424.7" y2="868.6" stroke="#fdfbd2" stroke-width="5.4" stroke-linecap="butt"/>
<line x1="259.3" y1="696.6" x2="590.2" y2="696.6" stroke="#fdfbd2" stroke-width="5.4" stroke-linecap="butt"/>
<ellipse cx="424.7" cy="696.6" rx="164.6" ry="171" fill="none" stroke="#2fe6ea" stroke-width="1.6"/>
<circle cx="369.7" cy="752.9" r="10.9" fill="none" stroke="#1212f2" stroke-width="1.5"/>
<text transform="translate(369.7 760.5) scale(1 1.04)" font-size="21.5" font-weight="normal" text-anchor="middle" style="fill:#1212f2">3</text>
<clipPath id="c0_0"><rect x="250" y="515" width="175" height="180"/></clipPath>
<g clip-path="url(#c0_0)" fill="none" stroke="#f51414" stroke-width="1.6" stroke-linejoin="round" stroke-linecap="round">
<polyline points="363.8,572.9 358.8,564.9 355.8,557.9 357.8,550.9 363.8,543.9 367.8,542.0 368.7,547.9 367.8,557.9 363.8,572.9 358.8,585.9 350.8,601.8 340.8,617.8 330.8,635.7 322.9,647.7 312.9,657.7 302.9,665.7 294.9,676.7 306.9,678.7 320.9,678.7 329.8,678.7 338.8,685.6 346.8,693.6 352.8,698.6"/>
<polyline points="435.0,549.9 424.6,556.9 410.7,567.9 394.7,577.9 378.7,585.9 368.7,590.8 358.8,598.8 348.8,607.8 340.8,619.8 332.8,633.7 324.8,645.7 324.4,659.7 324.4,679.6 323.8,698.6"/>
<polyline points="363.8,572.9 369.7,588.8 376.7,603.8 386.7,619.8 398.7,634.7 412.7,647.7 424.6,659.7 432.6,669.7 435.0,673.7"/>
<polyline points="267.0,693.6 273.0,681.6 280.9,670.7 290.9,664.7 302.9,664.1 316.9,660.7 330.8,653.7 344.8,647.7 358.8,649.7 364.8,657.7 370.7,669.7 372.7,683.6 373.7,697.6"/>
<polyline points="392.7,698.6 400.7,690.6 412.7,683.6 424.6,679.6 435.0,679.6"/>
<polyline points="394.7,698.6 406.7,693.6 420.6,691.6 435.0,690.6"/>
</g>
<clipPath id="c0_1"><rect x="425" y="515" width="175" height="180"/></clipPath>
<g clip-path="url(#c0_1)" fill="none" stroke="#f51414" stroke-width="1.6" stroke-linejoin="round" stroke-linecap="round">
<polyline points="415.0,562.9 425.0,553.9 437.0,545.9 448.9,543.5 460.9,543.5 470.9,549.9 480.9,558.9 488.8,565.9 498.8,569.9 508.8,577.9 516.8,585.9 524.8,591.8 534.7,595.8 542.7,599.8 547.7,605.8 550.7,613.8"/>
<polyline points="488.8,564.9 478.9,562.9 467.9,562.9 458.9,571.9 453.9,581.9 450.9,591.8 450.9,609.8 454.9,623.8 460.9,639.7 466.9,655.7 472.9,669.7 478.9,681.6 481.9,691.6 483.8,698.6"/>
<polyline points="488.8,564.9 498.8,571.9 508.8,583.9 516.8,597.8 522.8,607.8 528.7,619.8 532.7,631.8 535.7,643.7 538.7,659.7 542.7,673.7 545.7,685.6 547.7,698.6"/>
<polyline points="546.7,623.8 557.7,620.8 560.7,631.8 562.7,639.7 561.7,655.7 562.7,673.7 566.7,685.6 571.7,697.6"/>
<polyline points="544.7,623.8 526.8,637.7 508.8,652.7 490.8,667.7 474.9,681.6 462.9,691.6 452.9,698.6"/>
<polyline points="544.7,625.8 528.7,641.7 512.8,659.7 496.8,675.7 480.9,685.6 466.9,690.6 454.9,692.6 438.9,692.0 425.0,691.6 415.0,691.6"/>
<polyline points="542.7,622.8 522.8,639.7 502.8,657.7 484.8,675.7 472.9,689.6 465.9,698.6"/>
<polyline points="415.0,651.7 423.0,657.7 431.0,667.7 437.0,679.6 442.9,689.6 446.9,698.6"/>
<polyline points="415.0,680.6 425.0,679.6 438.9,679.6 450.9,682.6 462.9,688.6 472.9,695.6 476.9,698.6"/>
</g>
<clipPath id="c0_2"><rect x="250" y="695" width="175" height="180"/></clipPath>
<g clip-path="url(#c0_2)" fill="none" stroke="#f51414" stroke-width="1.6" stroke-linejoin="round" stroke-linecap="round">
<polyline points="297.3,779.8 298.9,787.8 301.9,797.8 305.9,806.7"/>
<polyline points="305.9,806.7 312.9,789.8 320.9,773.8 332.8,757.9 344.8,747.9 358.8,738.9 374.7,735.9 390.7,736.3 406.7,738.9 418.6,745.9 424.6,751.9 435.0,757.9"/>
<polyline points="305.9,806.7 320.9,799.8 338.8,791.8 354.8,781.8 370.7,771.8 384.7,766.8 400.7,765.8 414.6,765.4 435.0,766.8"/>
<polyline points="305.9,806.7 320.9,813.7 334.8,821.7 348.8,821.7 360.8,821.7 374.7,815.7 386.7,809.7 396.7,800.8 406.7,787.8 414.6,773.8 422.6,757.9 428.6,745.9 435.0,735.9"/>
<polyline points="268.0,690.0 269.0,700.0 272.0,709.0 284.9,715.9 298.9,721.9 312.9,725.9 324.8,726.9 338.8,723.9 352.8,719.9 362.8,714.9 374.7,709.0 386.7,703.0 398.7,697.0 406.7,692.0 414.6,690.0"/>
<polyline points="323.8,690.0 323.8,706.0 326.8,714.9 336.8,720.9 348.8,720.9 358.8,717.9"/>
<polyline points="342.8,690.0 350.8,696.0 356.8,704.0 360.8,717.9 363.8,729.9 366.8,743.9 369.7,755.9 370.7,769.8 368.7,779.8 369.7,789.8 374.7,801.8 382.7,811.7 392.7,819.7 400.7,821.7 404.7,813.7 405.7,805.7 402.7,795.8 396.7,781.8 393.7,767.8 393.7,751.9 396.7,737.9 402.7,727.9 412.7,719.9 424.6,712.0 435.0,707.0"/>
<polyline points="374.7,690.0 374.7,710.0 373.7,729.9 372.7,747.9 371.7,759.8 372.7,775.8 376.7,787.8 384.7,801.8 394.7,817.7 402.7,829.7 412.7,839.7 424.6,847.7 435.0,849.6"/>
<polyline points="435.0,741.9 424.6,755.9 416.6,769.8 408.7,785.8 402.7,801.8 399.7,817.7 398.7,833.7 400.7,845.7 414.6,853.6 424.6,850.6 435.0,847.7"/>
</g>
<clipPath id="c0_3"><rect x="425" y="695" width="175" height="180"/></clipPath>
<g clip-path="url(#c0_3)" fill="none" stroke="#f51414" stroke-width="1.6" stroke-linejoin="round" stroke-linecap="round">
<polyline points="445.9,690.0 444.9,702.0 444.9,713.9 435.0,735.9 427.0,753.9 419.0,765.8 415.0,769.8"/>
<polyline points="470.9,690.0 444.9,704.0 415.0,719.9"/>
<polyline points="468.9,694.0 452.9,723.9 437.0,743.9 425.0,755.9 415.0,767.8"/>
<polyline points="415.0,765.8 427.0,766.8 444.9,768.8 460.9,769.8 476.9,766.8 492.8,761.8 506.8,753.9 522.8,741.9 538.7,729.9 554.7,719.9 566.7,704.0 572.7,697.0 568.7,690.0"/>
<polyline points="482.9,690.0 483.8,702.0 488.8,719.9 494.8,733.9 502.8,749.9 510.8,759.8 520.8,771.8 530.7,781.8 537.7,789.8 545.7,783.8 538.7,773.8 526.8,761.8 514.8,749.9 506.8,735.9 498.8,723.9 488.8,713.9 482.9,702.0"/>
<polyline points="546.7,690.0 546.7,704.0 543.7,719.9 534.7,731.9 522.8,743.9 506.8,755.9 490.8,769.8 476.9,783.8 464.9,797.8 454.9,813.7 446.9,829.7 440.9,843.7 435.0,848.7 425.0,849.6 415.0,843.7"/>
<polyline points="415.0,743.9 425.0,751.9 435.0,759.8 442.9,771.8 446.9,785.8 450.9,799.8 454.9,813.7 452.9,825.7 446.9,837.7 438.9,847.7 427.0,851.6 415.0,853.6"/>
</g>
<line x1="424.7" y1="524.5" x2="424.7" y2="868.6" stroke="#1212f2" stroke-width="2.7" stroke-linecap="butt"/>
<line x1="259.3" y1="696.6" x2="590.2" y2="696.6" stroke="#1212f2" stroke-width="2.7" stroke-linecap="butt"/>
<rect x="259.3" y="524.5" width="330.9" height="344.1" rx="1.5" fill="none" stroke="#1212f2" stroke-width="2.1"/>
<rect x="538.7" y="615.0" width="10.8" height="10.8" fill="#f8f010" stroke="#f51414" stroke-width="2.4"/>
<line x1="542.6" y1="623.4" x2="546.6" y2="619.9" stroke="#f51414" stroke-width="1.4"/>
<circle cx="297.3" cy="774.8" r="6.3" fill="#f51414"/><circle cx="297.3" cy="774.8" r="4.2" fill="#000"/>
<text transform="translate(424.7 899.2) scale(1 1.04)" font-size="24.6" font-weight="bold" text-anchor="middle"  stroke="#000" stroke-width="0.3">SSC</text>
<rect x="594.1" y="524.5" width="330.9" height="344.1" fill="#ece9d8" stroke="none"/>
<rect x="596.0" y="526.4" width="327.1" height="340.3" fill="none" stroke="#fdfbd2" stroke-width="1.6"/>
<line x1="759.6" y1="524.5" x2="759.6" y2="868.6" stroke="#fdfbd2" stroke-width="5.4" stroke-linecap="butt"/>
<line x1="594.1" y1="696.6" x2="925.0" y2="696.6" stroke="#fdfbd2" stroke-width="5.4" stroke-linecap="butt"/>
<ellipse cx="759.6" cy="696.6" rx="164.6" ry="171" fill="none" stroke="#2fe6ea" stroke-width="1.6"/>
<circle cx="704.2" cy="753.5" r="10.9" fill="none" stroke="#1212f2" stroke-width="1.5"/>
<text transform="translate(704.2 761.1) scale(1 1.04)" font-size="21.5" font-weight="normal" text-anchor="middle" style="fill:#1212f2">3</text>
<clipPath id="c1_0"><rect x="585" y="515" width="175" height="180"/></clipPath>
<g clip-path="url(#c1_0)" fill="none" stroke="#f51414" stroke-width="1.6" stroke-linejoin="round" stroke-linecap="round">
<polyline points="770.0,596.8 759.6,591.8 749.6,585.9 739.7,576.9 731.7,573.5 723.7,572.9 713.7,577.9 705.7,581.9 699.8,589.8 691.8,599.8 677.8,609.8 663.8,619.8 649.9,627.8 637.9,637.7 628.9,649.7 627.9,661.7 628.9,671.7 633.9,683.6 639.9,693.6 642.9,698.6"/>
<polyline points="677.8,693.6 679.8,675.7 681.8,655.7 684.8,641.7 687.8,633.4 703.7,633.4 706.7,643.7 709.7,653.7 707.7,663.7 703.7,677.7 701.8,689.6 699.8,698.6"/>
<polyline points="770.0,632.8 759.6,639.7 747.7,648.7 735.7,657.7 725.7,667.7 717.7,677.7 709.7,685.6 701.8,691.6"/>
<polyline points="703.7,671.7 711.7,663.7 721.7,656.7 729.7,657.7 737.7,659.7 745.7,667.7 751.6,675.7 757.6,681.6 765.6,693.6 768.6,698.6"/>
<polyline points="729.7,657.7 727.7,667.7 724.7,679.6 721.7,691.6 719.7,698.6"/>
<polyline points="770.0,671.7 759.6,678.7 749.6,685.6 739.7,691.6 731.7,696.6"/>
<polyline points="681.8,691.6 687.8,685.6 695.8,683.6 707.7,681.6 713.7,685.6 719.7,693.6 725.7,691.6 733.7,698.6"/>
<polyline points="675.8,698.6 679.8,689.6 685.8,693.6 691.8,698.6"/>
</g>
<clipPath id="c1_1"><rect x="760" y="515" width="175" height="180"/></clipPath>
<g clip-path="url(#c1_1)" fill="none" stroke="#f51414" stroke-width="1.6" stroke-linejoin="round" stroke-linecap="round">
<polyline points="750.0,583.9 760.0,590.8 775.9,600.8 789.9,600.8 803.9,600.8 813.9,602.8 821.8,608.8 828.8,618.8 830.8,629.8 832.8,643.7 834.8,659.7 836.8,675.7 839.8,689.6 841.8,698.6"/>
<polyline points="830.8,584.9 819.8,593.8 807.9,602.8 789.9,614.8 773.9,625.8 758.0,637.7 750.0,644.7"/>
<polyline points="750.0,683.6 762.0,675.7 773.9,663.7 781.9,656.7 789.9,653.7 792.9,659.7 796.9,667.7 793.9,679.6 787.9,691.6 783.9,698.6"/>
<polyline points="750.0,671.7 756.0,677.7 760.0,687.6 766.0,698.6"/>
</g>
<clipPath id="c1_2"><rect x="585" y="695" width="175" height="180"/></clipPath>
<g clip-path="url(#c1_2)" fill="none" stroke="#f51414" stroke-width="1.6" stroke-linejoin="round" stroke-linecap="round">
<polyline points="635.9,690.0 642.9,705.0 647.9,696.0 657.9,694.0 667.8,704.0 675.8,717.9 685.8,731.9 695.8,747.9 707.7,765.8 717.7,777.8 727.7,791.8 735.7,805.7 743.7,819.7 749.6,835.7 753.6,851.6"/>
<polyline points="642.9,705.0 653.9,715.9 663.8,727.9 671.8,741.9 679.8,755.9 689.8,769.8 701.8,779.8 713.7,787.8 725.7,795.8 739.7,801.8 753.6,803.7 770.0,797.8"/>
<polyline points="671.8,721.9 661.8,725.9 655.9,737.9 650.9,753.9 651.9,769.8 657.9,785.8 663.8,801.8 665.8,817.7 669.8,820.7 677.8,820.7 687.8,811.7 697.8,803.7 705.7,797.8 709.7,789.8 717.7,779.8 721.7,769.8"/>
<polyline points="677.8,829.7 687.8,838.7 703.7,829.7 709.7,817.7 717.7,803.7 727.7,789.8 737.7,773.8 747.7,757.9 755.6,743.9 759.6,731.9 770.0,713.9"/>
<polyline points="655.9,737.9 653.9,755.9 659.8,773.8 665.8,789.8 668.8,805.7 667.8,817.7 677.8,829.7"/>
<polyline points="685.8,731.9 683.8,747.9 683.8,763.8 685.8,777.8 682.8,793.8 687.8,800.8 698.8,802.8 703.7,789.8 705.7,773.8 704.7,757.9"/>
<polyline points="704.7,755.9 711.7,765.8 719.7,779.8 727.7,793.8 733.7,809.7 737.7,825.7 741.7,841.7 747.7,851.6"/>
<polyline points="719.7,847.7 729.7,829.7 739.7,813.7 749.6,807.7 759.6,809.7 770.0,813.7"/>
<polyline points="719.7,847.7 725.7,849.6 733.7,843.7 733.7,829.7 729.7,813.7 723.7,797.8 717.7,781.8"/>
<polyline points="747.7,851.6 753.6,853.6 757.6,843.7 759.6,833.7 770.0,827.7"/>
<polyline points="673.8,690.0 673.8,706.0 671.8,721.9"/>
<polyline points="679.8,690.0 675.8,702.0 677.8,713.9 689.8,729.9 701.8,743.9"/>
<polyline points="689.8,690.0 697.8,706.0 701.8,721.9 704.7,737.9 704.7,751.9"/>
<polyline points="713.7,690.0 709.7,706.0 707.7,721.9 705.7,737.9"/>
<polyline points="721.7,690.0 715.7,704.0 713.7,719.9 717.7,735.9 723.7,753.9 729.7,769.8 737.7,783.8 743.7,795.8"/>
<polyline points="729.7,690.0 735.7,706.0 745.7,719.9 753.6,729.9 751.6,743.9 745.7,757.9 737.7,773.8"/>
<polyline points="743.7,795.8 747.7,809.7 749.6,825.7 749.6,841.7 753.6,851.6"/>
<polyline points="769.6,690.0 761.6,698.0 755.6,712.0 753.6,729.9"/>
</g>
<clipPath id="c1_3"><rect x="760" y="695" width="175" height="180"/></clipPath>
<g clip-path="url(#c1_3)" fill="none" stroke="#f51414" stroke-width="1.6" stroke-linejoin="round" stroke-linecap="round">
<polyline points="840.8,690.0 843.8,706.0 845.8,721.9 844.8,739.9 839.8,753.9 831.8,763.8 821.8,771.8 809.9,778.8 793.9,787.8 777.9,793.8 762.0,799.8 750.0,804.7"/>
<polyline points="764.0,690.0 772.0,706.0 779.9,719.9 789.9,735.9 799.9,751.9 809.9,765.8 815.9,777.8 818.8,787.8 807.9,794.8 793.9,791.8 781.9,801.8 770.0,811.7 760.0,808.7 750.0,805.7"/>
<polyline points="787.9,690.0 779.9,704.0 770.0,717.9 758.0,735.9 750.0,749.9"/>
<polyline points="750.0,725.9 758.0,736.9 770.0,741.9 783.9,747.9 795.9,753.9 805.9,763.8 811.9,775.8 815.9,789.8 817.9,803.7 817.9,817.7 814.9,829.7 813.9,837.7 801.9,843.7 789.9,841.7 777.9,838.7 766.0,841.7 759.0,844.7 756.0,853.6 750.0,851.6"/>
<polyline points="750.0,719.9 756.0,739.9 762.0,759.8 765.0,779.8 764.0,795.8"/>
<polyline points="762.0,827.7 754.0,833.7 750.0,839.7"/>
</g>
<clipPath id="c1_4"><rect x="590" y="515" width="340" height="360"/></clipPath>
<g clip-path="url(#c1_4)" fill="none" stroke="#f51414" stroke-width="1.6" stroke-linejoin="round" stroke-linecap="round">
<polyline points="649.9,698.6 669.8,730.5 693.8,762.4 717.7,794.3 737.6,822.3 753.6,852.2"/>
<polyline points="709.7,702.5 713.7,730.5 709.7,762.4 721.7,794.3 729.7,826.3 745.6,854.2"/>
</g>
<line x1="759.6" y1="524.5" x2="759.6" y2="868.6" stroke="#1212f2" stroke-width="2.7" stroke-linecap="butt"/>
<line x1="594.1" y1="696.6" x2="925.0" y2="696.6" stroke="#1212f2" stroke-width="2.7" stroke-linecap="butt"/>
<rect x="594.1" y="524.5" width="330.9" height="344.1" rx="1.5" fill="none" stroke="#1212f2" stroke-width="2.1"/>
<rect x="828.0" y="575.9" width="10.8" height="10.8" fill="#f8f010" stroke="#f51414" stroke-width="2.4"/>
<line x1="831.9" y1="584.3" x2="835.9" y2="580.8" stroke="#f51414" stroke-width="1.4"/>
<circle cx="764.5" cy="825.5" r="6.3" fill="#f51414"/><circle cx="764.5" cy="825.5" r="4.2" fill="#000"/>
<text transform="translate(759.6 899.2) scale(1 1.04)" font-size="24.6" font-weight="bold" text-anchor="middle"  stroke="#000" stroke-width="0.3">SEE</text>
<rect x="928" y="524.5" width="331.0" height="344.1" fill="#ece9d8" stroke="none"/>
<rect x="929.9" y="526.4" width="327.2" height="340.3" fill="none" stroke="#fdfbd2" stroke-width="1.6"/>
<line x1="1093.5" y1="524.5" x2="1093.5" y2="868.6" stroke="#fdfbd2" stroke-width="5.4" stroke-linecap="butt"/>
<line x1="928.0" y1="696.6" x2="1259.0" y2="696.6" stroke="#fdfbd2" stroke-width="5.4" stroke-linecap="butt"/>
<ellipse cx="1093.5" cy="696.6" rx="164.6" ry="171" fill="none" stroke="#2fe6ea" stroke-width="1.6"/>
<circle cx="1038.3" cy="752.9" r="10.9" fill="none" stroke="#1212f2" stroke-width="1.5"/>
<text transform="translate(1038.3 760.5) scale(1 1.04)" font-size="21.5" font-weight="normal" text-anchor="middle" style="fill:#1212f2">3</text>
<clipPath id="c2_0"><rect x="920" y="515" width="173.5" height="180"/></clipPath>
<g clip-path="url(#c2_0)" fill="none" stroke="#f51414" stroke-width="1.6" stroke-linejoin="round" stroke-linecap="round">
<polyline points="937.0,698.6 937.0,665.7 941.0,645.7 947.9,625.8 957.9,607.8 969.9,589.8 983.9,573.9 1001.8,557.9 1021.8,545.9 1045.7,537.0 1071.7,532.0 1093.6,530.0 1102.0,531.0"/>
<polyline points="1081.6,544.3 1093.6,543.9 1102.0,542.9"/>
<polyline points="969.9,698.6 970.9,679.6 971.9,649.7 974.9,627.8 981.9,605.8 997.8,581.9 1017.8,569.9 1041.7,562.9 1065.7,558.9 1093.6,556.9 1102.0,555.9"/>
<polyline points="968.9,697.6 969.9,675.7 975.9,655.7 985.9,633.7 1001.8,609.8 1021.8,585.9 1045.7,571.9 1071.7,560.9 1093.6,557.9 1102.0,558.9"/>
<polyline points="966.9,693.6 971.9,667.7 985.9,639.7 1001.8,615.8 1021.8,599.8 1045.7,585.9 1069.7,576.9 1093.6,572.9 1102.0,572.9"/>
<polyline points="961.9,698.6 964.9,687.6 969.9,675.7 979.9,657.7 993.8,643.7 1013.8,631.8 1033.8,621.8 1049.7,613.8 1069.7,609.8 1079.7,612.8 1087.6,619.8 1093.6,625.8 1102.0,630.8"/>
<polyline points="969.9,679.6 977.9,669.7 993.8,661.7 1013.8,653.7 1033.8,643.7 1053.7,633.7 1073.7,623.8 1093.6,613.8 1102.0,609.8"/>
<polyline points="1037.7,697.6 1045.7,685.6 1057.7,675.7 1071.7,670.7 1081.6,668.7 1093.6,670.7 1102.0,672.7"/>
<polyline points="959.9,698.6 961.9,689.6 967.9,683.6"/>
</g>
<clipPath id="c2_1"><rect x="1093.5" y="515" width="176.5" height="180"/></clipPath>
<g clip-path="url(#c2_1)" fill="none" stroke="#f51414" stroke-width="1.6" stroke-linejoin="round" stroke-linecap="round">
<polyline points="1085.0,531.0 1105.0,533.0 1124.9,537.0 1144.9,544.9 1164.8,554.9 1180.8,565.9 1192.8,577.9 1200.7,585.9 1210.7,597.8 1218.7,611.8 1224.7,625.8 1227.7,643.7 1228.7,663.7 1227.7,683.6 1226.7,698.6"/>
<polyline points="1085.0,542.9 1105.0,542.0 1120.9,543.9 1130.9,549.9 1137.9,559.9 1132.9,571.9 1127.9,581.9 1125.9,593.8 1127.9,605.8 1134.9,619.8 1142.9,633.7 1150.9,647.7 1158.8,659.7 1164.8,673.7 1169.8,687.6 1171.8,698.6"/>
<polyline points="1085.0,556.9 1105.0,555.9 1124.9,554.9 1144.9,555.9 1168.8,557.9 1170.8,565.9 1158.8,573.9 1144.9,581.9 1124.9,593.8 1105.0,605.8 1085.0,617.8"/>
<polyline points="1085.0,558.9 1105.0,558.9 1120.9,564.9 1136.9,570.9 1150.9,579.9 1164.8,589.8 1176.8,599.8 1185.8,607.8 1188.8,617.8 1192.8,631.8 1196.8,647.7 1200.7,663.7 1204.7,679.6 1208.7,693.6 1210.7,698.6"/>
<polyline points="1085.0,572.9 1105.0,572.9 1124.9,574.9 1142.9,578.9 1152.9,585.9 1162.8,597.8 1170.8,607.8 1178.8,621.8 1186.8,633.7 1196.8,647.7 1206.7,661.7 1214.7,675.7 1217.7,689.6 1212.7,695.6 1198.7,698.6"/>
<polyline points="1201.7,596.8 1196.8,611.8 1190.8,631.8 1184.8,649.7 1177.8,668.7 1162.8,661.7 1152.9,647.7"/>
<polyline points="1085.0,617.8 1095.0,627.8 1105.0,634.7 1124.9,638.7 1140.9,641.7 1152.9,647.7"/>
<polyline points="1085.0,669.7 1101.0,672.7 1116.9,679.6 1132.9,687.6 1144.9,696.6"/>
</g>
<clipPath id="c2_2"><rect x="920" y="695" width="173.5" height="180"/></clipPath>
<g clip-path="url(#c2_2)" fill="none" stroke="#f51414" stroke-width="1.6" stroke-linejoin="round" stroke-linecap="round">
<polyline points="937.0,690.0 938.0,710.0 942.0,735.9 949.9,757.9 961.9,779.8 977.9,801.8 997.8,821.7 1017.8,837.7 1041.7,849.6 1065.7,855.6 1085.6,857.6 1102.0,854.6"/>
<polyline points="1041.7,690.0 1035.7,704.0 1029.8,719.9 1024.8,735.9 1020.8,749.9 1012.8,759.8 1003.8,762.8 995.8,762.8 983.9,757.9 973.9,749.9 967.9,739.9 964.9,723.9 961.9,708.0 960.9,690.0"/>
<polyline points="968.9,690.0 967.9,708.0 957.9,719.9 945.9,734.9 945.5,751.9 955.9,773.8 969.9,789.8 983.9,803.7 989.9,817.7 997.8,823.7 1017.8,829.7 1041.7,833.7 1065.7,837.7 1085.6,839.7 1102.0,841.7"/>
<polyline points="964.9,690.0 965.9,713.9 969.9,735.9 975.9,755.9 985.9,775.8 991.8,789.8 995.8,805.7 996.8,821.7"/>
<polyline points="958.9,690.0 959.9,710.0 964.9,733.9 969.9,757.9 975.9,777.8 987.9,791.8 990.8,801.8 990.8,817.7"/>
<polyline points="970.9,690.0 969.9,710.0 971.9,733.9 979.9,757.9 989.9,777.8 993.8,793.8 1009.8,799.8 1029.8,801.8 1049.7,800.8 1069.7,795.8 1089.6,787.8 1102.0,782.8"/>
<polyline points="945.9,753.9 957.9,775.8 973.9,787.8 989.9,797.8 1009.8,807.7 1033.8,814.7 1057.7,818.7 1081.6,820.7 1102.0,819.7"/>
<polyline points="989.9,817.7 1009.8,827.7 1033.8,833.7 1057.7,837.7 1081.6,841.7 1102.0,847.7"/>
<polyline points="996.8,821.7 1013.8,833.7 1029.8,843.7 1049.7,849.6 1069.7,853.6 1085.6,855.6 1102.0,853.6"/>
</g>
<clipPath id="c2_3"><rect x="1093.5" y="695" width="176.5" height="180"/></clipPath>
<g clip-path="url(#c2_3)" fill="none" stroke="#f51414" stroke-width="1.6" stroke-linejoin="round" stroke-linecap="round">
<polyline points="1226.7,690.0 1225.7,706.0 1222.7,725.9 1223.7,745.9 1218.7,765.8 1208.7,785.8 1194.8,803.7 1178.8,819.7 1160.8,833.7 1142.9,842.7 1120.9,849.6 1105.0,851.6 1085.0,856.6"/>
<polyline points="1212.7,696.0 1216.7,713.9 1220.7,729.9 1216.7,749.9 1210.7,769.8 1200.7,787.8 1186.8,805.7 1170.8,821.7 1152.9,834.7 1134.9,843.7 1114.9,844.7 1097.0,843.7 1085.0,838.7"/>
<polyline points="1212.7,696.0 1196.8,698.0 1184.8,704.0 1172.8,713.9 1164.8,727.9 1154.8,741.9 1142.9,755.9 1130.9,767.8 1114.9,775.8 1097.0,785.8 1085.0,790.8"/>
<polyline points="1134.9,690.0 1144.9,698.0 1154.8,708.0 1162.8,719.9 1166.8,733.9 1170.8,749.9 1172.8,765.8 1170.8,783.8 1166.8,803.7 1158.8,815.7 1146.9,829.7 1132.9,841.7 1116.9,849.6 1101.0,845.7 1085.0,841.7"/>
<polyline points="1170.8,690.0 1170.8,706.0 1166.8,723.9 1162.8,745.9 1160.8,763.8 1154.8,779.8 1146.9,791.8 1134.9,803.7 1120.9,811.7 1105.0,817.7 1085.0,820.7"/>
<polyline points="1210.7,690.0 1214.7,694.0 1216.7,690.0"/>
</g>
<line x1="1093.5" y1="524.5" x2="1093.5" y2="868.6" stroke="#1212f2" stroke-width="2.7" stroke-linecap="butt"/>
<line x1="928.0" y1="696.6" x2="1259.0" y2="696.6" stroke="#1212f2" stroke-width="2.7" stroke-linecap="butt"/>
<rect x="928" y="524.5" width="331.0" height="344.1" rx="1.5" fill="none" stroke="#1212f2" stroke-width="2.1"/>
<rect x="1198.3" y="585.8" width="10.8" height="10.8" fill="#f8f010" stroke="#f51414" stroke-width="2.4"/>
<line x1="1202.2" y1="594.2" x2="1206.2" y2="590.7" stroke="#f51414" stroke-width="1.4"/>
<circle cx="1081.6" cy="544.3" r="6.3" fill="#f51414"/><circle cx="1081.6" cy="544.3" r="4.2" fill="#000"/>
<text transform="translate(1093.5 899.2) scale(1 1.04)" font-size="24.6" font-weight="bold" text-anchor="middle"  stroke="#000" stroke-width="0.3">ISC</text>
<rect x="1262" y="524.5" width="331.2" height="344.1" fill="#ece9d8" stroke="none"/>
<rect x="1263.9" y="526.4" width="327.4" height="340.3" fill="none" stroke="#fdfbd2" stroke-width="1.6"/>
<line x1="1427.6" y1="524.5" x2="1427.6" y2="868.6" stroke="#fdfbd2" stroke-width="5.4" stroke-linecap="butt"/>
<line x1="1262.0" y1="696.6" x2="1593.2" y2="696.6" stroke="#fdfbd2" stroke-width="5.4" stroke-linecap="butt"/>
<ellipse cx="1427.6" cy="696.6" rx="164.6" ry="171" fill="none" stroke="#2fe6ea" stroke-width="1.6"/>
<circle cx="1371.9" cy="752.7" r="10.9" fill="none" stroke="#1212f2" stroke-width="1.5"/>
<text transform="translate(1371.9 760.3) scale(1 1.04)" font-size="21.5" font-weight="normal" text-anchor="middle" style="fill:#1212f2">3</text>
<clipPath id="c3_0"><rect x="1255" y="515" width="173" height="235"/><rect x="1255" y="750" width="45" height="125"/></clipPath>
<g clip-path="url(#c3_0)" fill="none" stroke="#f51414" stroke-width="1.6" stroke-linejoin="round" stroke-linecap="round">
<polyline points="1276.0,638.9 1273.0,649.9 1270.0,665.9 1267.0,685.8 1268.0,707.8 1270.0,727.7 1275.0,747.7 1283.9,767.6 1297.9,775.6 1309.9,779.6"/>
<polyline points="1276.0,638.9 1281.9,647.9 1297.9,659.9 1315.9,672.8 1333.8,683.8 1351.8,692.8 1369.8,701.8 1387.7,710.8 1405.7,719.7 1423.6,727.7 1438.0,733.7"/>
<polyline points="1428.6,634.9 1417.6,639.9 1407.7,645.9 1404.7,656.9 1397.7,665.9 1395.7,679.8 1393.7,695.8 1391.7,711.8 1390.7,727.7 1389.7,743.7 1387.7,759.6 1385.7,778.6"/>
<polyline points="1428.6,634.9 1433.6,649.9 1427.6,665.9 1417.6,683.8 1409.7,699.8 1403.7,715.7 1400.7,731.7 1399.7,747.7 1397.7,763.6 1393.7,778.6"/>
<polyline points="1404.7,656.9 1393.7,658.9 1387.7,665.9 1381.7,679.8 1378.7,695.8 1377.7,711.8 1376.7,727.7 1374.7,743.7 1373.7,759.6"/>
<polyline points="1404.7,656.9 1413.7,663.9 1419.6,669.8 1423.6,679.8 1426.6,693.8 1427.6,711.8 1428.6,727.7"/>
<polyline points="1378.7,707.8 1366.8,715.7 1365.8,731.7 1368.8,743.7 1372.7,757.7 1381.7,767.6 1389.7,778.6"/>
<polyline points="1378.7,707.8 1384.7,713.7 1387.7,719.7 1385.7,727.7 1379.7,733.7 1369.8,733.7 1363.8,739.7 1366.8,755.7 1371.7,765.6"/>
<polyline points="1371.7,765.6 1385.7,751.7 1397.7,741.7 1411.7,733.7 1425.6,725.7 1438.0,723.7"/>
<polyline points="1379.7,729.7 1389.7,737.7 1401.7,743.7 1405.7,751.7 1406.7,759.6 1417.6,763.6 1429.6,763.6 1438.0,765.6"/>
</g>
<clipPath id="c3_1"><rect x="1300" y="750" width="128" height="125"/></clipPath>
<g clip-path="url(#c3_1)" fill="none" stroke="#f51414" stroke-width="1.6" stroke-linejoin="round" stroke-linecap="round">
<polyline points="1300.0,776.8 1310.6,780.3 1324.8,783.0 1340.8,783.0 1355.0,780.3 1365.6,773.2 1372.7,767.9 1383.4,760.8 1395.8,757.3 1406.4,759.0 1410.0,764.3 1406.4,773.2 1399.3,782.1 1392.2,780.3 1388.7,773.2"/>
<polyline points="1356.8,808.7 1362.1,799.8 1369.2,791.0 1378.0,787.4 1388.7,785.6 1378.0,794.5 1367.4,803.4 1356.8,808.7"/>
<polyline points="1368.3,846.8 1374.5,852.2 1378.9,852.2 1378.0,846.8 1372.7,847.7"/>
<polyline points="1378.9,852.2 1383.4,835.3 1386.9,817.6 1388.7,799.8 1389.6,782.1 1390.5,764.3 1390.5,746.6 1391.4,728.9 1391.4,720.0"/>
<polyline points="1381.6,852.2 1392.2,840.6 1402.9,824.7 1411.8,808.7 1418.8,794.5 1422.4,782.1 1424.2,771.4"/>
<polyline points="1379.8,851.3 1388.7,837.1 1395.8,826.4 1399.3,812.2 1395.8,798.0 1392.2,783.9 1388.7,773.2 1381.6,762.6 1374.5,751.9 1369.2,741.3 1363.9,737.7 1367.4,732.4 1374.5,728.9 1378.0,720.0"/>
<polyline points="1365.6,720.0 1365.6,736.0 1369.2,750.2 1371.0,766.1 1370.1,782.1 1367.4,794.5"/>
<polyline points="1371.0,773.2 1378.0,791.0 1388.7,799.8 1402.9,803.4 1415.3,808.7 1425.9,814.0 1434.8,808.7 1447.2,806.9 1460.0,810.5"/>
<polyline points="1376.3,778.5 1388.7,776.8 1402.9,773.2 1415.3,775.0 1422.4,782.1 1417.1,791.0 1406.4,798.0 1395.8,799.8"/>
<polyline points="1376.3,720.0 1376.3,737.7 1376.3,751.9"/>
<polyline points="1385.1,720.0 1386.9,734.2 1395.8,741.3 1402.9,743.1 1406.4,751.9 1408.2,760.8"/>
<polyline points="1372.7,767.9 1385.1,746.6 1399.3,739.5 1413.5,730.6 1427.4,725.3 1441.9,728.9 1460.0,734.2"/>
<polyline points="1402.9,720.0 1401.1,734.2 1399.3,748.4 1396.7,762.6 1394.0,778.5 1399.3,791.0 1401.1,803.4 1399.3,815.8 1395.8,830.0 1381.6,852.2"/>
<polyline points="1406.4,757.3 1427.4,762.6 1441.9,765.2 1460.0,769.7"/>
</g>
<clipPath id="c3_2"><rect x="1428" y="515" width="172" height="205"/></clipPath>
<g clip-path="url(#c3_2)" fill="none" stroke="#f51414" stroke-width="1.6" stroke-linejoin="round" stroke-linecap="round">
<polyline points="1538.7,597.9 1523.8,603.9 1509.8,609.9 1505.8,619.9 1501.8,623.9 1495.8,634.8 1487.9,641.8 1480.9,648.8 1477.9,659.8 1473.9,671.8 1470.9,681.7 1468.9,693.7 1469.9,703.7 1467.9,713.7 1459.9,723.6 1451.9,733.6 1447.9,738.6"/>
<polyline points="1420.0,637.8 1428.4,634.8 1433.0,649.8 1429.0,667.8 1422.0,675.7 1426.0,695.7 1429.0,719.6 1430.0,738.6"/>
</g>
<clipPath id="c3_3"><rect x="1428" y="720" width="172" height="155"/></clipPath>
<g clip-path="url(#c3_3)" fill="none" stroke="#f51414" stroke-width="1.6" stroke-linejoin="round" stroke-linecap="round">
<polyline points="1470.9,700.0 1468.9,712.0 1459.9,723.9 1451.9,735.9 1446.3,742.5"/>
<polyline points="1420.0,725.9 1432.0,723.9 1445.9,725.9 1457.9,728.9 1462.9,741.9 1459.9,751.9 1453.9,757.9 1445.9,752.9 1444.9,746.9"/>
<polyline points="1428.0,729.9 1438.0,737.9 1446.3,742.5 1457.9,749.9 1471.9,757.9 1485.9,767.9 1499.8,779.8 1513.8,793.8 1519.8,805.8 1524.8,812.8 1517.8,817.7 1516.8,822.7 1505.8,809.8 1495.8,795.8 1487.9,781.8 1477.9,771.8 1471.9,771.8 1465.9,755.9"/>
<polyline points="1420.0,763.9 1432.0,765.9 1445.9,767.9 1459.9,768.8 1471.9,771.8 1483.9,779.8 1489.8,789.8 1495.8,801.8 1487.9,807.8 1479.9,817.7 1471.9,817.7 1461.9,813.7 1453.9,808.8 1440.0,807.8 1428.0,813.7 1420.0,811.8"/>
<polyline points="1420.0,793.8 1423.0,779.8 1426.0,765.9 1428.0,749.9 1428.0,729.9 1428.0,700.0"/>
</g>
<line x1="1427.6" y1="524.5" x2="1427.6" y2="868.6" stroke="#1212f2" stroke-width="2.7" stroke-linecap="butt"/>
<line x1="1262.0" y1="696.6" x2="1593.2" y2="696.6" stroke="#1212f2" stroke-width="2.7" stroke-linecap="butt"/>
<rect x="1262" y="524.5" width="331.2" height="344.1" rx="1.5" fill="none" stroke="#1212f2" stroke-width="2.1"/>
<rect x="1538.1" y="588.4" width="10.8" height="10.8" fill="#f8f010" stroke="#f51414" stroke-width="2.4"/>
<line x1="1542.0" y1="596.8" x2="1546.0" y2="593.3" stroke="#f51414" stroke-width="1.4"/>
<circle cx="1446.3" cy="742.6" r="6.3" fill="#f51414"/><circle cx="1446.3" cy="742.6" r="4.2" fill="#000"/>
<text transform="translate(1427.6 899.2) scale(1 1.04)" font-size="24.6" font-weight="bold" text-anchor="middle"  stroke="#000" stroke-width="0.3">IEE</text>
</svg>
</body></html>
